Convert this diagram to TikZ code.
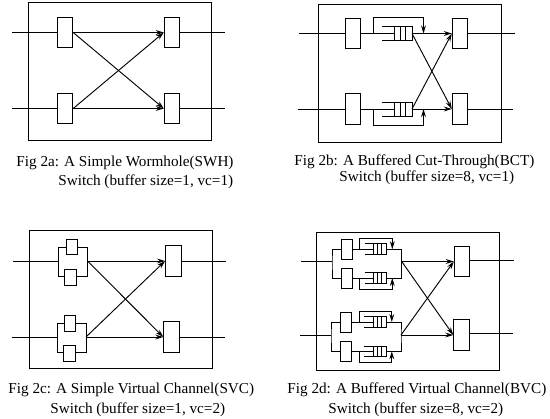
\documentclass[tikz,border=0pt]{standalone}
\usepackage{fontspec}
\setmainfont{Liberation Serif}
\usetikzlibrary{positioning,calc,arrows.meta}
\tikzset{
  portbox/.style={draw,inner sep=0pt,minimum width=11.6pt,minimum height=23pt},
  vcbox/.style={draw,fill=white,inner sep=0pt,minimum width=8.6pt,minimum height=11.6pt},
  vcport/.style={draw,fill=white,inner sep=0pt,minimum width=7.8pt,minimum height=15.5pt},
  bufbox/.style={inner sep=0pt,minimum width=22.5pt,minimum height=9.75pt},
  smallbuf/.style={inner sep=0pt,minimum width=15.8pt,minimum height=7.2pt},
  shell/.style={draw,inner sep=0pt,minimum width=137.25pt,minimum height=103.5pt},
  captext/.style={inner sep=0pt,anchor=west,font=\fontsize{11.4}{13}\selectfont},
  link/.style={line width=0.7pt},
  flow/.style={line width=0.7pt,-{Stealth[length=6pt,width=3.6pt]}}
}
\newcommand{\queuecells}[1]{
  \draw[link] (#1.north west) -- (#1.north east) -- (#1.south east) -- (#1.south west);
  \foreach \s in {0.42,0.6,0.78} {
    \draw[link] ($(#1.north west)!\s!(#1.north east)$) -- ($(#1.south west)!\s!(#1.south east)$);
  }
}
\begin{document}
\begin{tikzpicture}[x=0.75pt,y=0.75pt,yscale=-1,every path/.append style={line width=0.7pt}]
\useasboundingbox (0,0) rectangle (550,418);

% Fig 2a
\node[shell] (shella) at (119.5,71) {};
\node[portbox] (ina1) at (65,32.5) {};
\node[portbox] (ina2) at (65,108.5) {};
\node[portbox] (outa1) at (172,32.5) {};
\node[portbox] (outa2) at (172,108.5) {};
\coordinate (sa1) at (12,32.5);
\coordinate (sa2) at (12,108.5);
\coordinate (ea1) at (225,32.5);
\coordinate (ea2) at (225,108.5);
\draw[link] (sa1) -- (ina1);
\draw[link] (sa2) -- (ina2);
\draw[link] (outa1) -- (ea1);
\draw[link] (outa2) -- (ea2);
\draw[flow] (ina1) -- (outa1);
\draw[flow] (ina2) -- (outa2);
\draw[flow] (ina1.east) -- (outa2.west);
\draw[flow] (ina2.east) -- (outa1.west);
\node[captext] (capa1) at (16,162.5) {Fig 2a: A Simple Wormhole(SWH)};
\node[captext] (capa2) at (58,181.5) {Switch (buffer size=1, vc=1)};

% Fig 2b
\node[shell] (shellb) at (409.75,73.25) {};
\node[portbox] (inb1) at (353,33.5) {};
\node[portbox] (inb2) at (353,109) {};
\node[portbox] (outb1) at (460,33.5) {};
\node[portbox] (outb2) at (460,109) {};
\node[bufbox] (qb1) at (397,33) {};
\node[bufbox] (qb2) at (397,109) {};
\queuecells{qb1}
\queuecells{qb2}
\coordinate (sb1) at (299,33.5);
\coordinate (sb2) at (298,109);
\coordinate (eb1) at (515,33.5);
\coordinate (eb2) at (513,109);
\coordinate (qib1) at (394,33.5);
\coordinate (qib2) at (394,109);
\coordinate (tb1) at (373,33.5);
\coordinate (tb2) at (373,109);
\coordinate (ub1) at (373,17.5);
\coordinate (ub2) at (373,125.5);
\coordinate (vb1) at (423.5,17.5);
\coordinate (vb2) at (423.5,125.5);
\coordinate (wb1) at (423.5,33.5);
\coordinate (wb2) at (423.5,109);
\coordinate (rb1) at (412,33.5);
\coordinate (rb2) at (412,109);
\draw[link] (sb1) -- (inb1);
\draw[link] (sb2) -- (inb2);
\draw[link] (outb1) -- (eb1);
\draw[link] (outb2) -- (eb2);
\draw[link] (inb1) -- (qib1);
\draw[link] (inb2) -- (qib2);
\draw[flow] (tb1) -- (ub1) -- (vb1) -- (wb1);
\draw[flow] (tb2) -- (ub2) -- (vb2) -- (wb2);
\draw[flow] (rb1) -- (outb1);
\draw[flow] (rb2) -- (outb2);
\draw[flow] (rb1) -- (outb2.west);
\draw[flow] (rb2) -- (outb1.west);
\node[captext] (capb1) at (294,162) {Fig 2b: A Buffered Cut-Through(BCT)};
\node[captext] (capb2) at (339,177.5) {Switch (buffer size=8, vc=1)};

% Fig 2c
\node[shell] (shellc) at (120.5,299.25) {};
\coordinate (bca) at (58.5,247.5);
\coordinate (bcb) at (87.5,276);
\draw[link] (bca) rectangle (bcb);
\coordinate (bcc) at (57,323.5);
\coordinate (bcd) at (86,352);
\draw[link] (bcc) rectangle (bcd);
\node[vcbox] (vca1) at (72,246.75) {};
\node[vcbox] (vca2) at (70.5,277.5) {};
\node[vcbox] (vcb1) at (70,323.25) {};
\node[vcbox] (vcb2) at (69.5,353.5) {};
\node[portbox] (outc1) at (173.25,261) {};
\node[portbox] (outc2) at (171.5,337) {};
\coordinate (sc1) at (13,261);
\coordinate (sc2) at (11.5,337);
\coordinate (ic1) at (58.5,261);
\coordinate (ic2) at (57,337);
\coordinate (oc1) at (87.5,261);
\coordinate (oc2) at (86,337);
\coordinate (ec1) at (226,261);
\coordinate (ec2) at (225,337);
\draw[link] (sc1) -- (ic1);
\draw[link] (sc2) -- (ic2);
\draw[link] (outc1) -- (ec1);
\draw[link] (outc2) -- (ec2);
\draw[flow] (oc1) -- (outc1.west);
\draw[flow] (oc2) -- (outc2.west);
\draw[flow] (oc1) -- (outc2.west);
\draw[flow] (oc2) -- (outc1.west);
\node[captext] (capc1) at (8,390) {Fig 2c: A Simple Virtual Channel(SVC)};
\node[captext] (capc2) at (50,409.5) {Switch (buffer size=1, vc=2)};

% Fig 2d
\node[shell] (shelld) at (408,301) {};
\node[portbox] (outd1) at (462,261.5) {};
\node[portbox] (outd2) at (461.5,335) {};
\node[vcport] (vda1) at (347,249.5) {};
\node[vcport] (vda2) at (347,278.5) {};
\node[vcport] (vdb1) at (346,322.5) {};
\node[vcport] (vdb2) at (346,351.5) {};
\node[smallbuf] (qda1) at (375.5,249.2) {};
\node[smallbuf] (qda2) at (375.5,278) {};
\node[smallbuf] (qdb1) at (375,322) {};
\node[smallbuf] (qdb2) at (375,351.3) {};
\queuecells{qda1}
\queuecells{qda2}
\queuecells{qdb1}
\queuecells{qdb2}
\coordinate (sd1) at (301,261.5);
\coordinate (sd2) at (300,335);
\coordinate (ed1) at (514,260);
\coordinate (ed2) at (513,333);
\coordinate (jd1) at (332,261.5);
\coordinate (jd2) at (331,335);
\coordinate (kd1) at (401.7,261.5);
\coordinate (kd2) at (401,335);
\draw[link] (sd1) -- (jd1);
\draw[link] (sd2) -- (jd2);
\draw[link] (outd1.east |- ed1) -- (ed1);
\draw[link] (outd2.east |- ed2) -- (ed2);
% input forks
\draw[link] (vda1.west) -| (jd1) |- (vda2.west);
\draw[link] (vdb1.west) -| (jd2) |- (vdb2.west);
% queue inputs
\draw[link] (vda1.east) -- +(21,0) coordinate (qia1);
\draw[link] (vda2.east) -- +(21,0) coordinate (qia2);
\draw[link] (vdb1.east) -- +(21.5,0) coordinate (qib1);
\draw[link] (vdb2.east) -- +(21.5,0) coordinate (qib2);
% bypass loops
\draw[flow] (359.5,249.5) |- (392.3,238.5) -- (392.3,249.2);
\draw[flow] (359.5,278.5) |- (392.3,289.3) -- (392.3,278);
\draw[flow] (359,322.5) |- (391.8,311.7) -- (391.8,322);
\draw[flow] (359,351.5) |- (391.8,362.3) -- (391.8,351.3);
% merge bars
\draw[link] (qda1.east) -| (kd1) |- (qda2.east);
\draw[link] (qdb1.east) -| (kd2) |- (qdb2.east);
\draw[flow] (kd1) -- (outd1.west);
\draw[flow] (kd2) -- (outd2.west);
\draw[flow] (kd1) -- (outd2.west);
\draw[flow] (kd2) -- (outd1.west);
\node[captext] (capd1) at (287,390) {Fig 2d: A Buffered Virtual Channel(BVC)};
\node[captext] (capd2) at (328,409.5) {Switch (buffer size=8, vc=2)};

\end{tikzpicture}
\end{document}
